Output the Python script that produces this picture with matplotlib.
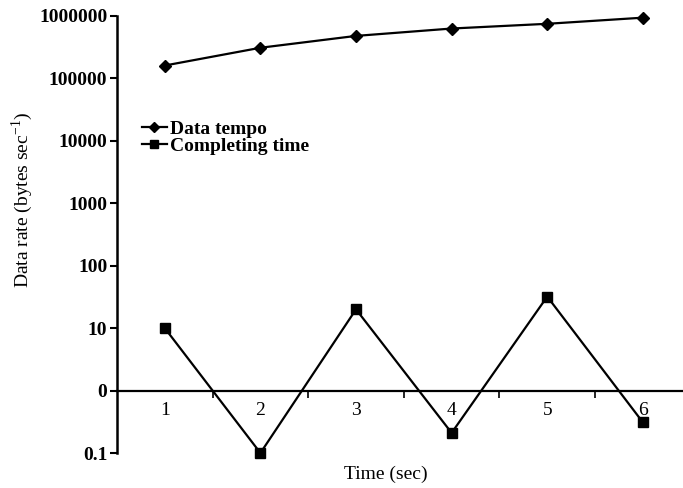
import numpy as np
import matplotlib.pyplot as plt
from matplotlib.ticker import FixedLocator

time = [1, 2, 3, 4, 5, 6]
data_tempo = [161000, 310000, 480000, 630000, 750000, 940000]
completing_time = [10, 0.1, 20, 0.21, 32, 0.31]
ytick_vals = [0.1, 1, 10, 100, 1000, 10000, 100000, 1000000]
ytick_labels = ["0.1", "0", "10", "100", "1000", "10000", "100000", "1000000"]

plt.rcParams['font.family'] = ['Liberation Serif', 'DejaVu Serif']
plt.rcParams['mathtext.fontset'] = 'custom'
plt.rcParams['mathtext.rm'] = 'Liberation Serif'

fig = plt.figure(figsize=(6.83, 4.88), dpi=100)
ax = fig.add_axes([117 / 683, 35 / 488, 566 / 683, 437 / 488])

ax.plot(time, data_tempo, color='black', lw=1.6, marker='D', ms=6, label='Data tempo', clip_on=False)
ax.plot(time, completing_time, color='black', lw=1.6, marker='s', ms=6.5, label='Completing time', clip_on=False)

ax.set_yscale('log')
ax.set_ylim(0.1, 1000000)
ax.set_xlim(0.5, 6.42)
ax.set_yticks(ytick_vals)
ax.set_yticklabels(ytick_labels)
ax.yaxis.set_minor_locator(FixedLocator([]))
ax.tick_params(axis='y', length=5, width=1.5, direction='out', pad=2, labelsize=14)

ax.set_xticks(time)
ax.set_xticklabels([str(t) for t in time])
ax.xaxis.set_minor_locator(FixedLocator([1.5, 2.5, 3.5, 4.5, 5.5]))
ax.tick_params(axis='x', which='major', length=0, pad=8, labelsize=14)
ax.tick_params(axis='x', which='minor', length=5, width=1.2, direction='out')
for lbl in ax.get_xticklabels() + ax.get_yticklabels():
    lbl.set_fontweight('bold')

ax.spines['top'].set_visible(False)
ax.spines['right'].set_visible(False)
ax.spines['bottom'].set_position(('data', 1))
ax.spines['bottom'].set_linewidth(1.6)
ax.spines['left'].set_linewidth(1.8)

ax.set_xlabel('Time (sec)', fontsize=14)
ax.xaxis.set_label_coords(0.475, -0.028)
ax.set_ylabel('Data rate (bytes sec$^{-1}$)', fontsize=14)
ax.yaxis.set_label_coords(-0.145, 0.58)

ax.legend(loc='upper left', bbox_to_anchor=(0.03, 0.78), frameon=False,
          prop={'size': 14, 'weight': 'bold'}, markerscale=0.85,
          handlelength=1.3, handletextpad=0.15, labelspacing=0.0, borderaxespad=0)

fig.savefig('out.png', dpi=100)
